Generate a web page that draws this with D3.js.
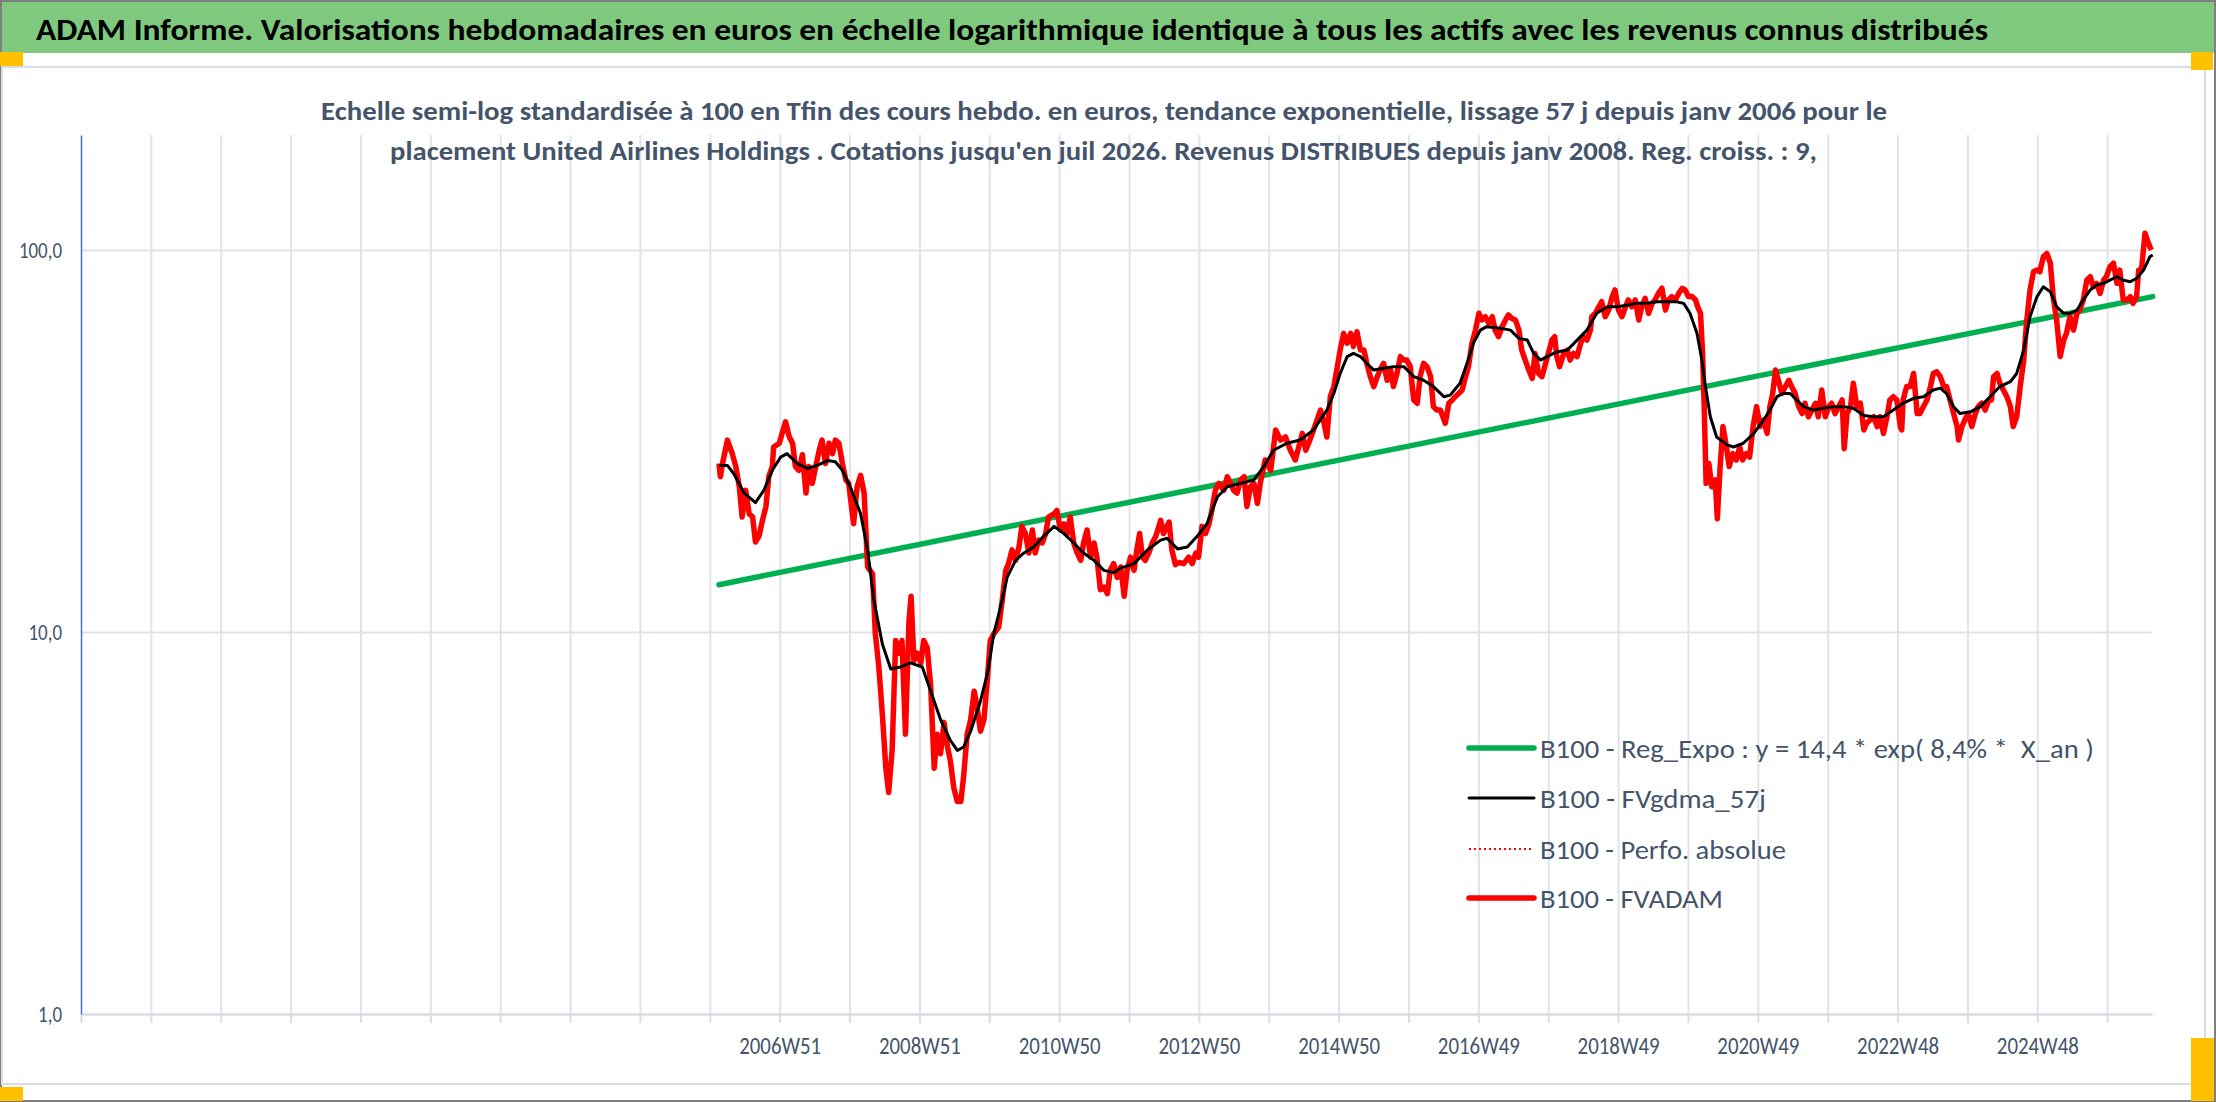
<!DOCTYPE html>
<html>
<head>
<meta charset="utf-8">
<script src="https://cdn.jsdelivr.net/npm/d3@7"></script>
<style>
body { margin: 0; background: #fff; }
svg text { font-family: Carlito, Lato, "Open Sans", sans-serif; white-space: pre; }
</style>
</head>
<body>
<div id="chart"></div>
<script>
var WIDTH = 2216
var HEIGHT = 1102

var titleText = "ADAM Informe. Valorisations hebdomadaires en euros en échelle logarithmique identique à tous les actifs avec les revenus connus distribués"
var subtitleLines = [
	"Echelle semi-log standardisée à 100 en Tfin des cours hebdo. en euros, tendance exponentielle, lissage 57 j depuis janv 2006 pour le",
	"placement United Airlines Holdings . Cotations jusqu'en juil 2026. Revenus DISTRIBUES depuis janv 2008. Reg. croiss. : 9,"
]
var legendLabels = ["B100 - Reg_Expo : y = 14,4 * exp( 8,4% *  X_an )", "B100 - FVgdma_57j", "B100 - Perfo. absolue", "B100 - FVADAM"]

// weekly category axis, one tick every 52 weeks, label every 104 weeks
var axisStart = 1997.0
var axisEnd = 2026.54
var tickCount = 30
var firstLabelTick = 10
var xTickLabels = ["2006W51", "2008W51", "2010W50", "2012W50", "2014W50", "2016W49", "2018W49", "2020W49", "2022W48", "2024W48"]
var yTickValues = [1, 10, 100]
var yGridValues = [10, 100]

// [year, value]
var regExpo = [[2006.10, 13.3], [2026.55, 75.5]]

var fvgdma = [
[2006.10,27.3],[2006.22,27.3],[2006.31,26.0],[2006.46,23.1],[2006.62,21.8],[2006.74,23.5],[2006.86,26.5],[2006.98,28.7],
[2007.07,29.3],[2007.22,27.6],[2007.36,26.8],[2007.50,27.3],[2007.65,28.1],[2007.76,27.9],[2007.86,26.5],[2007.98,23.8],
[2008.12,20.4],[2008.22,16.4],[2008.31,12.1],[2008.43,9.3],[2008.55,8.0],[2008.69,8.1],[2008.83,8.3],[2009.00,8.1],
[2009.12,7.0],[2009.26,5.9],[2009.40,5.2],[2009.50,4.9],[2009.59,5.0],[2009.69,5.5],[2009.83,6.6],[2009.93,7.8],
[2010.02,9.9],[2010.12,11.7],[2010.21,13.9],[2010.33,15.4],[2010.45,16.1],[2010.59,16.7],[2010.73,17.8],[2010.88,18.9],
[2011.02,18.1],[2011.16,17.1],[2011.30,16.1],[2011.45,15.4],[2011.59,14.5],[2011.73,14.3],[2011.83,14.7],[2012.02,15.1],
[2012.21,16.4],[2012.40,17.4],[2012.49,17.6],[2012.64,16.5],[2012.78,16.7],[2012.92,17.8],[2013.06,19.2],[2013.21,22.6],
[2013.35,24.0],[2013.54,24.5],[2013.73,25.0],[2013.87,27.1],[2014.01,29.9],[2014.20,31.2],[2014.39,31.8],[2014.58,33.8],
[2014.77,38.1],[2014.87,42.1],[2014.96,47.5],[2015.06,52.6],[2015.15,53.6],[2015.25,52.6],[2015.34,50.5],[2015.44,48.5],
[2015.58,49.0],[2015.72,49.5],[2015.87,49.5],[2016.01,46.6],[2016.15,45.6],[2016.29,43.9],[2016.44,41.3],[2016.53,41.7],
[2016.67,44.8],[2016.77,50.5],[2016.86,57.0],[2016.96,61.7],[2017.05,63.0],[2017.25,62.4],[2017.39,61.7],[2017.51,58.7],
[2017.63,58.1],[2017.72,53.6],[2017.82,51.5],[2017.91,52.6],[2018.05,54.1],[2018.20,54.7],[2018.34,58.1],[2018.48,61.7],
[2018.62,68.3],[2018.77,71.0],[2018.91,71.0],[2019.05,71.7],[2019.19,72.5],[2019.34,72.5],[2019.48,73.2],[2019.62,73.2],
[2019.76,73.2],[2019.86,72.5],[2019.95,68.3],[2020.05,60.5],[2020.12,51.5],[2020.17,43.9],[2020.24,36.6],[2020.33,32.4],
[2020.48,30.9],[2020.57,30.5],[2020.71,31.2],[2020.86,33.1],[2021.00,35.9],[2021.09,38.1],[2021.19,41.3],[2021.28,42.1],
[2021.38,42.1],[2021.47,40.5],[2021.57,38.9],[2021.71,38.1],[2021.85,38.5],[2022.00,38.9],[2022.14,38.9],[2022.28,38.5],
[2022.43,36.9],[2022.57,36.6],[2022.71,36.6],[2022.85,38.1],[2022.99,39.7],[2023.14,40.9],[2023.28,41.3],[2023.42,43.0],
[2023.52,43.5],[2023.61,42.1],[2023.71,38.9],[2023.80,37.3],[2023.95,37.7],[2024.09,38.9],[2024.23,41.3],[2024.37,43.9],
[2024.52,45.2],[2024.61,47.5],[2024.71,54.7],[2024.80,66.9],[2024.90,75.5],[2024.99,80.1],[2025.09,77.8],[2025.18,71.0],
[2025.28,68.3],[2025.37,68.3],[2025.47,69.6],[2025.56,74.0],[2025.66,78.6],[2025.75,81.0],[2025.85,81.8],[2025.94,83.4],
[2026.04,85.1],[2026.13,83.4],[2026.23,82.6],[2026.32,84.2],[2026.42,88.6],[2026.51,96.0],[2026.55,97.0]
]

var fvadam = [
[2006.10,27.6],[2006.12,25.5],[2006.15,27.6],[2006.22,31.8],[2006.29,29.3],[2006.34,27.1],[2006.39,24.0],[2006.43,20.0],
[2006.48,23.5],[2006.53,20.4],[2006.58,20.0],[2006.62,17.2],[2006.67,17.8],[2006.72,19.6],[2006.77,21.3],[2006.81,25.5],
[2006.86,27.1],[2006.88,30.5],[2006.96,31.2],[2007.00,33.1],[2007.05,35.5],[2007.10,32.5],[2007.15,31.2],[2007.19,27.1],
[2007.24,26.5],[2007.29,29.1],[2007.34,23.1],[2007.38,27.1],[2007.43,24.5],[2007.48,27.1],[2007.53,29.9],[2007.57,31.8],
[2007.62,27.6],[2007.67,31.2],[2007.72,29.3],[2007.76,31.8],[2007.81,31.2],[2007.86,27.6],[2007.91,25.0],[2007.95,24.5],
[2008.02,19.2],[2008.07,24.0],[2008.12,25.7],[2008.17,23.1],[2008.22,14.8],[2008.29,14.2],[2008.33,9.9],[2008.38,8.1],
[2008.43,6.1],[2008.48,4.4],[2008.52,3.8],[2008.57,4.9],[2008.62,9.5],[2008.67,8.8],[2008.71,9.5],[2008.76,5.4],
[2008.81,10.7],[2008.84,12.4],[2008.88,8.4],[2008.93,8.8],[2008.98,8.3],[2009.02,9.5],[2009.07,9.1],[2009.12,7.2],
[2009.17,4.4],[2009.21,5.4],[2009.26,4.8],[2009.31,5.8],[2009.36,5.0],[2009.40,4.6],[2009.45,3.9],[2009.50,3.6],
[2009.55,3.6],[2009.59,4.2],[2009.64,5.4],[2009.69,5.9],[2009.74,7.0],[2009.78,6.4],[2009.83,5.5],[2009.88,5.9],
[2009.93,7.6],[2009.97,9.5],[2010.02,9.9],[2010.09,10.3],[2010.14,12.1],[2010.19,14.5],[2010.23,15.1],[2010.28,16.4],
[2010.33,15.4],[2010.38,16.7],[2010.42,18.9],[2010.47,18.1],[2010.52,16.1],[2010.57,18.5],[2010.61,16.1],[2010.66,17.4],
[2010.71,17.1],[2010.76,18.1],[2010.80,20.0],[2010.88,20.4],[2010.92,20.8],[2010.97,18.5],[2011.02,19.2],[2011.07,18.1],
[2011.11,20.0],[2011.16,17.1],[2011.21,16.1],[2011.26,15.4],[2011.30,17.1],[2011.35,18.5],[2011.40,15.7],[2011.45,17.1],
[2011.49,15.7],[2011.54,12.9],[2011.59,13.1],[2011.64,12.6],[2011.68,14.5],[2011.73,15.1],[2011.78,13.9],[2011.83,14.8],
[2011.88,12.4],[2011.92,14.5],[2011.97,15.7],[2012.02,14.5],[2012.06,16.4],[2012.10,18.1],[2012.14,15.7],[2012.18,15.4],
[2012.23,16.1],[2012.28,17.1],[2012.33,17.8],[2012.40,19.6],[2012.44,18.1],[2012.52,19.4],[2012.56,16.4],[2012.61,15.0],
[2012.66,15.2],[2012.73,15.1],[2012.80,15.7],[2012.85,15.1],[2012.90,16.1],[2012.94,15.7],[2012.99,18.9],[2013.04,18.1],
[2013.09,19.2],[2013.13,20.8],[2013.18,23.5],[2013.23,24.5],[2013.30,23.5],[2013.35,25.5],[2013.40,24.5],[2013.44,23.5],
[2013.49,23.1],[2013.54,25.0],[2013.59,25.5],[2013.63,21.3],[2013.68,24.0],[2013.73,24.5],[2013.78,21.7],[2013.82,24.5],
[2013.89,28.2],[2013.97,26.5],[2014.04,33.8],[2014.11,31.8],[2014.18,32.4],[2014.25,29.9],[2014.32,28.2],[2014.37,30.5],
[2014.42,33.1],[2014.47,29.9],[2014.51,31.2],[2014.58,33.8],[2014.68,38.1],[2014.73,35.2],[2014.77,32.4],[2014.82,41.3],
[2014.87,43.9],[2014.92,49.5],[2014.96,54.7],[2015.01,60.5],[2015.06,57.0],[2015.11,60.5],[2015.15,55.9],[2015.20,61.1],
[2015.25,54.7],[2015.30,54.7],[2015.34,50.5],[2015.39,46.6],[2015.44,43.9],[2015.49,46.6],[2015.53,48.5],[2015.58,50.5],
[2015.63,45.6],[2015.68,48.5],[2015.72,43.9],[2015.77,47.5],[2015.82,52.6],[2015.87,51.5],[2015.91,51.5],[2015.96,49.5],
[2016.01,40.5],[2016.06,39.7],[2016.10,46.6],[2016.15,50.5],[2016.20,49.5],[2016.25,46.6],[2016.29,38.9],[2016.34,38.1],
[2016.39,38.1],[2016.46,35.2],[2016.51,39.7],[2016.56,40.5],[2016.60,41.3],[2016.65,42.1],[2016.70,43.0],[2016.75,46.6],
[2016.79,49.5],[2016.84,57.0],[2016.89,61.7],[2016.94,68.3],[2016.98,65.6],[2017.03,66.9],[2017.08,64.3],[2017.13,66.9],
[2017.17,61.7],[2017.22,59.3],[2017.27,63.0],[2017.32,65.6],[2017.36,67.6],[2017.41,66.2],[2017.46,65.6],[2017.51,61.7],
[2017.55,54.7],[2017.60,51.5],[2017.65,48.5],[2017.70,46.1],[2017.74,53.6],[2017.79,47.5],[2017.84,46.6],[2017.89,50.5],
[2017.93,53.6],[2017.98,58.1],[2018.02,59.3],[2018.05,52.6],[2018.09,49.5],[2018.15,53.6],[2018.20,54.7],[2018.24,51.5],
[2018.29,53.6],[2018.34,52.6],[2018.39,56.9],[2018.43,59.3],[2018.48,58.1],[2018.53,61.7],[2018.55,66.9],[2018.60,68.3],
[2018.65,71.0],[2018.69,73.2],[2018.74,66.9],[2018.79,69.6],[2018.84,75.5],[2018.88,78.6],[2018.93,69.6],[2018.98,66.9],
[2019.03,71.0],[2019.07,74.0],[2019.12,71.0],[2019.17,74.0],[2019.22,65.6],[2019.26,71.0],[2019.31,74.7],[2019.36,68.3],
[2019.41,72.5],[2019.45,74.0],[2019.50,77.0],[2019.55,79.4],[2019.60,69.6],[2019.64,74.0],[2019.69,75.5],[2019.74,74.0],
[2019.79,77.0],[2019.84,79.4],[2019.88,78.6],[2019.93,75.5],[2019.98,75.5],[2020.03,74.0],[2020.06,71.0],[2020.10,68.3],
[2020.13,53.6],[2020.15,40.5],[2020.18,24.5],[2020.22,27.6],[2020.26,24.0],[2020.31,25.0],[2020.34,19.8],[2020.38,27.1],
[2020.42,34.5],[2020.47,30.5],[2020.51,27.1],[2020.56,29.3],[2020.61,28.2],[2020.66,30.5],[2020.70,28.2],[2020.75,29.3],
[2020.80,28.7],[2020.85,34.5],[2020.90,38.9],[2020.95,34.5],[2021.00,35.9],[2021.05,33.1],[2021.09,38.9],[2021.13,42.1],
[2021.17,48.5],[2021.21,45.6],[2021.26,42.1],[2021.31,43.9],[2021.36,45.6],[2021.40,43.9],[2021.45,42.1],[2021.50,38.9],
[2021.55,37.3],[2021.59,39.7],[2021.64,36.6],[2021.69,38.1],[2021.74,39.7],[2021.78,36.6],[2021.83,43.0],[2021.88,36.6],
[2021.93,38.9],[2021.97,39.7],[2022.02,37.3],[2022.07,38.9],[2022.12,40.5],[2022.15,30.2],[2022.19,37.3],[2022.24,38.9],
[2022.28,44.8],[2022.33,38.9],[2022.38,39.7],[2022.43,33.8],[2022.47,35.2],[2022.52,35.9],[2022.57,36.6],[2022.62,34.5],
[2022.66,36.6],[2022.71,33.1],[2022.76,36.6],[2022.80,40.5],[2022.85,41.3],[2022.90,40.5],[2022.95,34.5],[2022.97,33.8],
[2022.99,40.5],[2023.04,43.9],[2023.09,43.9],[2023.14,47.5],[2023.19,37.3],[2023.23,37.3],[2023.28,38.9],[2023.33,40.5],
[2023.38,43.9],[2023.42,47.5],[2023.47,48.0],[2023.52,46.6],[2023.57,43.9],[2023.61,43.9],[2023.66,40.5],[2023.71,37.3],
[2023.76,34.5],[2023.78,31.8],[2023.83,34.5],[2023.87,35.9],[2023.92,37.3],[2023.97,34.5],[2024.02,37.3],[2024.06,38.9],
[2024.11,39.7],[2024.16,38.1],[2024.21,40.5],[2024.25,40.5],[2024.28,46.6],[2024.33,47.5],[2024.37,44.8],[2024.42,43.0],
[2024.47,41.3],[2024.52,38.9],[2024.56,34.5],[2024.61,36.6],[2024.66,43.9],[2024.71,51.5],[2024.75,64.3],[2024.80,78.6],
[2024.85,87.7],[2024.90,88.6],[2024.94,87.7],[2024.99,96.0],[2025.04,98.0],[2025.09,92.3],[2025.13,75.5],[2025.18,65.6],
[2025.23,52.6],[2025.28,58.1],[2025.32,60.5],[2025.37,66.9],[2025.42,61.7],[2025.47,68.3],[2025.51,69.6],[2025.56,74.0],
[2025.61,83.4],[2025.66,85.1],[2025.70,80.1],[2025.75,81.8],[2025.80,77.0],[2025.85,83.4],[2025.89,85.1],[2025.94,90.4],
[2025.99,92.3],[2026.04,81.8],[2026.08,88.6],[2026.13,74.0],[2026.18,74.0],[2026.23,75.5],[2026.27,72.5],[2026.32,75.5],
[2026.35,88.6],[2026.39,88.6],[2026.44,110.6],[2026.49,104.1],[2026.53,100.0]
]

var margin = {left: 81, right: 2152, top: 135, bottom: 1014}
var textColor = "#44546a"
var gridColor = "#dfe3ea"

var svg = d3.select("#chart").append("svg")
	.attr("width", WIDTH)
	.attr("height", HEIGHT)

// squeeze a text to a given width (or a ratio of its natural width)
function narrow(sel, ratio, width) {
	sel.each(function() {
		var w = this.getComputedTextLength()
		d3.select(this).attr("lengthAdjust", "spacingAndGlyphs")
			.attr("textLength", width ? width : w * ratio)
	})
}

// frame, title band, chart area
svg.append("rect").attr("x", 1).attr("y", 1).attr("width", WIDTH - 2).attr("height", HEIGHT - 2)
	.attr("fill", "#fff").attr("stroke", "#7f7f7f").attr("stroke-width", 2)
svg.append("rect").attr("x", 2).attr("y", 2).attr("width", WIDTH - 4).attr("height", 51)
	.attr("fill", "#7fc97f")
svg.append("rect").attr("x", 2).attr("y", 67).attr("width", 2203).attr("height", 1017)
	.attr("fill", "none").attr("stroke", "#dadde2").attr("stroke-width", 2)

var markers = [[0, 52, 23, 14], [2191, 52, 22, 18], [0, 1087, 23, 14], [2191, 1038, 23, 63]]
svg.selectAll(".marker").data(markers).enter().append("rect")
	.attr("class", "marker")
	.attr("x", function(d) { return d[0] }).attr("y", function(d) { return d[1] })
	.attr("width", function(d) { return d[2] }).attr("height", function(d) { return d[3] })
	.attr("fill", "#ffc000")

svg.append("text").attr("x", 36).attr("y", 40)
	.attr("font-size", 31).attr("font-weight", "bold").attr("fill", "#000")
	.text(titleText)
	.call(narrow, 1, 1952)

// scales
var x = d3.scaleLinear().domain([axisStart, axisEnd]).range([margin.left, margin.right])
var y = d3.scaleLog().domain([1, 200]).range([margin.bottom, margin.top])

var xTicks = d3.range(tickCount).map(function(k) { return axisStart + k * 364 / 365.25 })

// grid
svg.append("g")
	.attr("transform", "translate(0," + margin.bottom + ")")
	.call(d3.axisBottom(x).tickValues(xTicks.slice(1)).tickSize(-(margin.bottom - margin.top)).tickSizeOuter(0).tickFormat(""))
	.call(function(g) {
		g.select(".domain").remove()
		g.selectAll("line").attr("stroke", gridColor).attr("stroke-width", 2)
	})
svg.append("g")
	.attr("transform", "translate(" + margin.left + ",0)")
	.call(d3.axisLeft(y).tickValues(yGridValues).tickSize(-(margin.right - margin.left)).tickFormat(""))
	.call(function(g) {
		g.select(".domain").remove()
		g.selectAll("line").attr("stroke", gridColor).attr("stroke-width", 2)
	})

// subtitle sits over the grid
var subX = [321, 390], subY = [120, 160], subW = [1566, 1427]
svg.selectAll(".subtitle").data(subtitleLines).enter().append("text")
	.attr("class", "subtitle")
	.attr("x", function(d, i) { return subX[i] })
	.attr("y", function(d, i) { return subY[i] })
	.attr("font-size", 25.5).attr("font-weight", "bold").attr("fill", textColor)
	.text(function(d) { return d })
	.each(function(d, i) { d3.select(this).call(narrow, 1, subW[i]) })

// x axis
var xAxis = d3.axisBottom(x)
	.tickValues(xTicks)
	.tickSize(9)
	.tickSizeOuter(0)
	.tickPadding(14)
	.tickFormat(function(d, i) {
		if (i >= firstLabelTick && (i - firstLabelTick) % 2 == 0) return xTickLabels[(i - firstLabelTick) / 2] || ""
		return ""
	})
svg.append("g")
	.attr("transform", "translate(0," + margin.bottom + ")")
	.call(xAxis)
	.call(function(g) {
		g.select(".domain").attr("stroke", "#d9dde4").attr("stroke-width", 2.5)
		g.selectAll(".tick line").attr("stroke", "#d9dde4").attr("stroke-width", 2)
		g.selectAll("text").attr("font-size", 24).attr("fill", textColor)
			.attr("font-family", "Carlito, Lato, 'Open Sans', sans-serif")
			.filter(function(d, i) { return this.textContent != "" })
			.call(narrow, 1, 82)
	})

// y axis
var yAxis = d3.axisLeft(y)
	.tickValues(yTickValues)
	.tickSize(0)
	.tickPadding(19)
	.tickFormat(function(d) { return d3.format(".1f")(d).replace(".", ",") })
svg.append("g")
	.attr("transform", "translate(" + margin.left + ",0)")
	.call(yAxis)
	.call(function(g) {
		g.select(".domain").attr("stroke", "#4472c4").attr("stroke-width", 1.5)
		g.selectAll("text").attr("font-size", 22).attr("fill", textColor)
			.attr("font-family", "Carlito, Lato, 'Open Sans', sans-serif")
			.call(narrow, 0.86)
	})

// series
var line = d3.line()
	.x(function(d) { return x(d[0]) })
	.y(function(d) { return y(d[1]) })

svg.append("path").datum(regExpo).attr("d", line)
	.attr("fill", "none").attr("stroke", "#00b050").attr("stroke-width", 5.5).attr("stroke-linecap", "round")
svg.append("path").datum(fvadam).attr("d", line)
	.attr("fill", "none").attr("stroke", "#ff0000").attr("stroke-width", 5.5).attr("stroke-linejoin", "round")
svg.append("path").datum(fvgdma).attr("d", line)
	.attr("fill", "none").attr("stroke", "#000").attr("stroke-width", 3).attr("stroke-linejoin", "round")

// legend
var legendStyles = [
	{color: "#00b050", width: 5.5, dash: null},
	{color: "#000", width: 3, dash: null},
	{color: "#ff0000", width: 2, dash: "2,3"},
	{color: "#ff0000", width: 5.5, dash: null}
]
var legendRowY = [748, 798, 849, 898]
var legendTextW = [554, 226, 246, 183]
var legend = svg.selectAll(".legend").data(legendLabels).enter().append("g")
	.attr("class", "legend")
	.attr("transform", function(d, i) { return "translate(1469," + legendRowY[i] + ")" })
legend.append("line")
	.attr("x1", 0).attr("x2", 65).attr("y1", 0).attr("y2", 0)
	.attr("stroke", function(d, i) { return legendStyles[i].color })
	.attr("stroke-width", function(d, i) { return legendStyles[i].width })
	.attr("stroke-dasharray", function(d, i) { return legendStyles[i].dash })
	.attr("stroke-linecap", function(d, i) { return legendStyles[i].dash ? "butt" : "round" })
legend.append("text")
	.attr("x", 71).attr("y", 10)
	.attr("font-size", 27).attr("fill", textColor)
	.text(function(d) { return d })
	.each(function(d, i) { d3.select(this).call(narrow, 1, legendTextW[i]) })
</script>
</body>
</html>
